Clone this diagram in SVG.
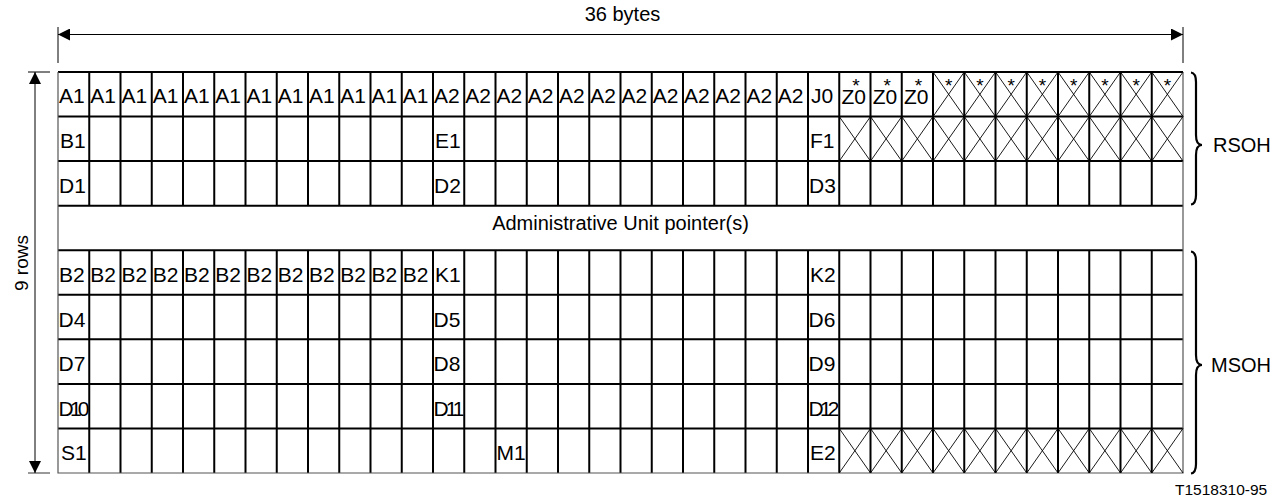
<svg xmlns="http://www.w3.org/2000/svg" xmlns:xlink="http://www.w3.org/1999/xlink" width="1286" height="500" viewBox="0 0 1286 500">
<style>
text{font-family:"Liberation Sans",Arial,sans-serif;fill:#000}
.lbl{font-size:21px}
.big{font-size:20px}
.star{font-size:19px;text-anchor:middle}
.grid{stroke:#000;stroke-width:2;fill:none}
.edge{stroke:#555;stroke-width:1.2;fill:none}
.thin{stroke:#000;stroke-width:0.9;fill:none}
.dim{stroke:#000;stroke-width:1;fill:none}
.brace{stroke:#000;stroke-width:2.2;fill:none}
</style>
<defs>
<marker id="ah" viewBox="0 0 12 12" refX="12" refY="6" markerWidth="12" markerHeight="12" markerUnits="userSpaceOnUse" orient="auto-start-reverse"><path d="M0,0 L12,6 L0,12 z" fill="#000"/></marker>
<path id="xc" class="thin" d="M0,0 L31.25,44.556 M0,44.556 L31.25,0"/>
</defs>
<rect width="1286" height="500" fill="#fff"/>

<g id="grid">
<path class="grid" d="M58,72 H1183 M58,116.56 H1183 M58,161.11 H1183 M58,205.67 H1183 M58,250.22 H1183 M58,294.78 H1183 M58,339.33 H1183 M58,383.89 H1183 M58,428.44 H1183"/>
<path class="grid" d="M89.25,72V205.67M89.25,250.22V473 M120.5,72V205.67M120.5,250.22V473 M151.75,72V205.67M151.75,250.22V473 M183,72V205.67M183,250.22V473 M214.25,72V205.67M214.25,250.22V473 M245.5,72V205.67M245.5,250.22V473 M276.75,72V205.67M276.75,250.22V473 M308,72V205.67M308,250.22V473 M339.25,72V205.67M339.25,250.22V473 M370.5,72V205.67M370.5,250.22V473 M401.75,72V205.67M401.75,250.22V473 M433,72V205.67M433,250.22V473 M464.25,72V205.67M464.25,250.22V473 M495.5,72V205.67M495.5,250.22V473 M526.75,72V205.67M526.75,250.22V473 M558,72V205.67M558,250.22V473 M589.25,72V205.67M589.25,250.22V473 M620.5,72V205.67M620.5,250.22V473 M651.75,72V205.67M651.75,250.22V473 M683,72V205.67M683,250.22V473 M714.25,72V205.67M714.25,250.22V473 M745.5,72V205.67M745.5,250.22V473 M776.75,72V205.67M776.75,250.22V473 M808,72V205.67M808,250.22V473 M839.25,72V205.67M839.25,250.22V473 M870.5,72V205.67M870.5,250.22V473 M901.75,72V205.67M901.75,250.22V473 M933,72V205.67M933,250.22V473 M964.25,72V205.67M964.25,250.22V473 M995.5,72V205.67M995.5,250.22V473 M1026.75,72V205.67M1026.75,250.22V473 M1058,72V205.67M1058,250.22V473 M1089.25,72V205.67M1089.25,250.22V473 M1120.5,72V205.67M1120.5,250.22V473 M1151.75,72V205.67M1151.75,250.22V473"/>
<path class="edge" d="M58,72 V473 H1183 V72"/>
</g>

<g id="crossed-cells">
<use xlink:href="#xc" x="933" y="72"/><use xlink:href="#xc" x="964.25" y="72"/><use xlink:href="#xc" x="995.5" y="72"/><use xlink:href="#xc" x="1026.75" y="72"/><use xlink:href="#xc" x="1058" y="72"/><use xlink:href="#xc" x="1089.25" y="72"/><use xlink:href="#xc" x="1120.5" y="72"/><use xlink:href="#xc" x="1151.75" y="72"/>
<use xlink:href="#xc" x="839.25" y="116.56"/><use xlink:href="#xc" x="870.5" y="116.56"/><use xlink:href="#xc" x="901.75" y="116.56"/><use xlink:href="#xc" x="933" y="116.56"/><use xlink:href="#xc" x="964.25" y="116.56"/><use xlink:href="#xc" x="995.5" y="116.56"/><use xlink:href="#xc" x="1026.75" y="116.56"/><use xlink:href="#xc" x="1058" y="116.56"/><use xlink:href="#xc" x="1089.25" y="116.56"/><use xlink:href="#xc" x="1120.5" y="116.56"/><use xlink:href="#xc" x="1151.75" y="116.56"/>
<use xlink:href="#xc" x="839.25" y="428.44"/><use xlink:href="#xc" x="870.5" y="428.44"/><use xlink:href="#xc" x="901.75" y="428.44"/><use xlink:href="#xc" x="933" y="428.44"/><use xlink:href="#xc" x="964.25" y="428.44"/><use xlink:href="#xc" x="995.5" y="428.44"/><use xlink:href="#xc" x="1026.75" y="428.44"/><use xlink:href="#xc" x="1058" y="428.44"/><use xlink:href="#xc" x="1089.25" y="428.44"/><use xlink:href="#xc" x="1120.5" y="428.44"/><use xlink:href="#xc" x="1151.75" y="428.44"/>
</g>

<g id="row1-labels">
<text x="59" y="103" class="lbl">A1</text><text x="90.25" y="103" class="lbl">A1</text><text x="121.5" y="103" class="lbl">A1</text><text x="152.75" y="103" class="lbl">A1</text><text x="184" y="103" class="lbl">A1</text><text x="215.25" y="103" class="lbl">A1</text><text x="246.5" y="103" class="lbl">A1</text><text x="277.75" y="103" class="lbl">A1</text><text x="309" y="103" class="lbl">A1</text><text x="340.25" y="103" class="lbl">A1</text><text x="371.5" y="103" class="lbl">A1</text><text x="402.75" y="103" class="lbl">A1</text>
<text x="434" y="103" class="lbl">A2</text><text x="465.25" y="103" class="lbl">A2</text><text x="496.5" y="103" class="lbl">A2</text><text x="527.75" y="103" class="lbl">A2</text><text x="559" y="103" class="lbl">A2</text><text x="590.25" y="103" class="lbl">A2</text><text x="621.5" y="103" class="lbl">A2</text><text x="652.75" y="103" class="lbl">A2</text><text x="684" y="103" class="lbl">A2</text><text x="715.25" y="103" class="lbl">A2</text><text x="746.5" y="103" class="lbl">A2</text><text x="777.75" y="103" class="lbl">A2</text>
<text x="811" y="103" class="lbl">J0</text>
<text x="841.5" y="104" class="lbl">Z0</text><text x="872.75" y="104" class="lbl">Z0</text><text x="904" y="104" class="lbl">Z0</text>
<text x="856" y="92" class="star">*</text><text x="887.25" y="92" class="star">*</text><text x="918.5" y="92" class="star">*</text>
<text x="948.6" y="92" class="star">*</text><text x="979.9" y="92" class="star">*</text><text x="1011.1" y="92" class="star">*</text><text x="1042.4" y="92" class="star">*</text><text x="1073.6" y="92" class="star">*</text><text x="1104.9" y="92" class="star">*</text><text x="1136.1" y="92" class="star">*</text><text x="1167.4" y="92" class="star">*</text>
</g>

<g id="row2-3-labels">
<text x="60" y="148" class="lbl">B1</text><text x="435" y="148" class="lbl">E1</text><text x="810" y="148" class="lbl">F1</text>
<text x="59" y="192.5" class="lbl">D1</text><text x="434" y="192.5" class="lbl">D2</text><text x="809" y="192.5" class="lbl">D3</text>
</g>

<g id="pointer-row">
<text x="620.5" y="230" class="big" text-anchor="middle">Administrative Unit pointer(s)</text>
</g>

<g id="msoh-labels">
<text x="59" y="282" class="lbl">B2</text><text x="90.25" y="282" class="lbl">B2</text><text x="121.5" y="282" class="lbl">B2</text><text x="152.75" y="282" class="lbl">B2</text><text x="184" y="282" class="lbl">B2</text><text x="215.25" y="282" class="lbl">B2</text><text x="246.5" y="282" class="lbl">B2</text><text x="277.75" y="282" class="lbl">B2</text><text x="309" y="282" class="lbl">B2</text><text x="340.25" y="282" class="lbl">B2</text><text x="371.5" y="282" class="lbl">B2</text><text x="402.75" y="282" class="lbl">B2</text>
<text x="435" y="282" class="lbl">K1</text><text x="810" y="282" class="lbl">K2</text>
<text x="58.5" y="326.5" class="lbl">D4</text><text x="433.5" y="326.5" class="lbl">D5</text><text x="808.5" y="326.5" class="lbl">D6</text>
<text x="58.5" y="371" class="lbl">D7</text><text x="433.5" y="371" class="lbl">D8</text><text x="808.5" y="371" class="lbl">D9</text>
<text x="58.5" y="415.5" class="lbl" textLength="31" lengthAdjust="spacing">D10</text><text x="433.5" y="415.5" class="lbl" textLength="31" lengthAdjust="spacing">D11</text><text x="808.5" y="415.5" class="lbl" textLength="31" lengthAdjust="spacing">D12</text>
<text x="61" y="460" class="lbl">S1</text><text x="496.5" y="460" class="lbl">M1</text><text x="810" y="460" class="lbl">E2</text>
</g>

<g id="connectors">
<path class="dim" d="M58,27 V63 M1183,27 V63 M28,72 H50"/>
<path class="edge" d="M28,473 H50"/>
<line class="dim" x1="58" y1="34.5" x2="1183" y2="34.5" marker-start="url(#ah)" marker-end="url(#ah)"/>
<line class="dim" x1="35" y1="72" x2="35" y2="473" marker-start="url(#ah)" marker-end="url(#ah)"/>
<path class="brace" d="M1191,72.5 C1195,73 1196,76 1196,82 V135 C1196,141 1198,145 1202,145 C1198,145 1196,149 1196,155 V195 C1196,201 1195,204 1191,204.5"/>
<path class="brace" d="M1191,251.5 C1195,252 1196,255 1196,261 V355 C1196,361 1198,365 1202,365 C1198,365 1196,369 1196,375 V464 C1196,470 1195,473 1191,473.5"/>
</g>

<g id="annotations">
<text x="622.5" y="21" class="big" text-anchor="middle">36 bytes</text>
<text transform="translate(28,263) rotate(-90)" font-size="19" text-anchor="middle">9 rows</text>
<text x="1213" y="152" class="big">RSOH</text>
<text x="1211" y="372" class="big">MSOH</text>
<text x="1175" y="495" font-size="15.5">T1518310-95</text>
</g>
</svg>
